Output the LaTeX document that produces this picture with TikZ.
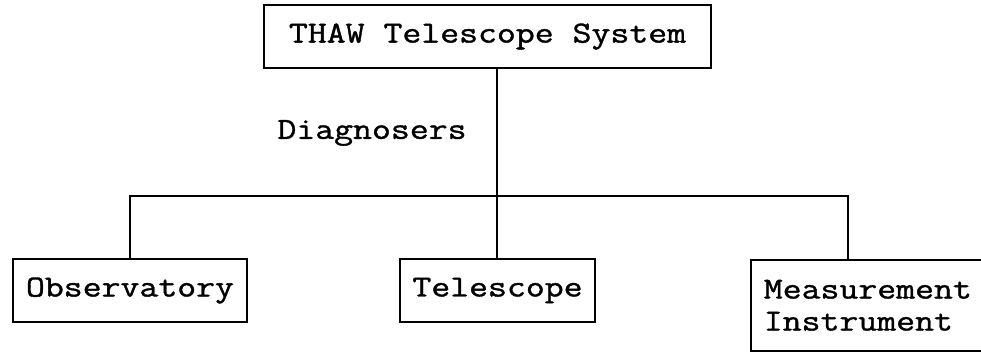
\documentclass[tikz,border=0pt]{standalone}
\usepackage{fontspec}
\setmonofont[FakeStretch=1.2,FakeBold=1.2]{Latin Modern Mono}
\begin{document}
\begin{tikzpicture}[x=1pt,y=-1pt,
  lbl/.style={font=\ttfamily\fontsize{30.6}{32}\selectfont},
  box/.style={lbl,draw,line width=1.6pt,inner sep=0pt,minimum height=63pt},
  conn/.style={line width=1.6pt}]
\clip (0,0) rectangle (981,352);
\fill[white] (0,0) rectangle (981,352);
\node[box,minimum width=447pt] (top) at (487.5,36.5) {THAW Telescope System};
\node[box,minimum width=234pt] (obs) at (130,290.5) {Observatory};
\node[box,minimum width=195pt] (tel) at (497.5,290.5) {Telescope};
\node[box,anchor=north west,minimum width=260pt,minimum height=91pt,align=left,
  text width=234pt,inner xsep=13pt] (meas) at (750,259) {Measurement\\Instrument};
\node[lbl] (diag) at (372,133) {Diagnosers};
\coordinate (jL) at (130,196);
\coordinate (jR) at (848,196);
\coordinate (jM) at (497,196);
\draw[conn] (top.south -| jM) -- (jM |- tel.north);
\draw[conn] (obs.north) -- (jL) -- (jR) -- (jR |- meas.north);
\end{tikzpicture}
\end{document}
